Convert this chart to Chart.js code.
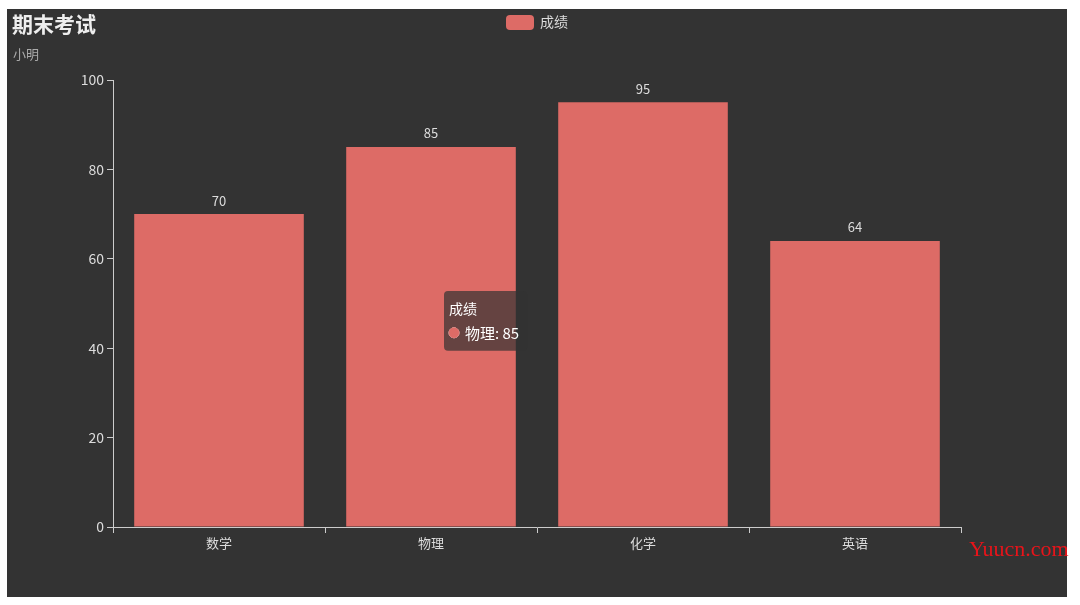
<!DOCTYPE html>
<html>
<head>
<meta charset="utf-8">
<script src="https://cdn.jsdelivr.net/npm/chart.js@4/dist/chart.umd.min.js"></script>
<style>
  html, body { margin: 0; padding: 0; background: #fff; }
  #wrap { position: relative; width: 1080px; height: 605px; }
  #chart { position: absolute; left: 0; top: 0; }
  #mark {
    position: absolute; left: 969px; top: 536px;
    font-family: "Liberation Serif", "DejaVu Serif", serif;
    font-size: 22px; color: #e8141a; white-space: nowrap;
  }
</style>
</head>
<body>
<div id="wrap">
  <canvas id="chart" width="1080" height="605"></canvas>
  <div id="mark">Yuucn.com</div>
</div>
<script>
// chart data
const titleText = '期末考试';
const subtitleText = '小明';
const seriesName = '成绩';
const subjects = ['数学', '物理', '化学', '英语'];
const scores = [70, 85, 95, 64];
const yTicks = [0, 20, 40, 60, 80, 100];

const barColor = '#dd6b66';
const font = '"Noto Sans CJK SC", "Noto Sans", sans-serif';

// dark panel, title, legend and value labels
const decorPlugin = {
    id: 'decor',
    beforeDraw(chart) {
        const ctx = chart.ctx;
        ctx.save();
        ctx.fillStyle = '#333333';
        ctx.fillRect(7, 9, 1060, 588);
        ctx.restore();
    },
    afterDatasetsDraw(chart) {
        const ctx = chart.ctx;
        ctx.save();
        // title + subtitle
        ctx.textBaseline = 'middle';
        ctx.textAlign = 'left';
        ctx.fillStyle = '#eeeeee';
        ctx.font = 'bold 21px ' + font;
        ctx.fillText(titleText, 12, 24);
        ctx.fillStyle = '#aaaaaa';
        ctx.font = '13px ' + font;
        ctx.fillText(subtitleText, 13, 54);
        // legend
        ctx.fillStyle = barColor;
        ctx.beginPath();
        ctx.roundRect(506, 15, 28, 15, 4);
        ctx.fill();
        ctx.fillStyle = '#dddddd';
        ctx.font = '14px ' + font;
        ctx.fillText(seriesName, 540, 22);
        // labels above bars
        ctx.textAlign = 'center';
        ctx.textBaseline = 'bottom';
        ctx.font = '13px ' + font;
        ctx.fillStyle = '#dddddd';
        chart.getDatasetMeta(0).data.forEach((bar, i) => {
            ctx.fillText(String(scores[i]), bar.x, bar.y - 7);
        });
        ctx.restore();
    }
};

Chart.Tooltip.positioners.pinned = function() {
    return { x: 448, y: 291 };
};

const chart = new Chart(document.getElementById('chart'), {
    type: 'bar',
    data: {
        labels: subjects,
        datasets: [{
            label: seriesName,
            data: scores,
            backgroundColor: barColor,
            borderWidth: 0,
            barPercentage: 0.8,
            categoryPercentage: 1.0
        }]
    },
    options: {
        responsive: false,
        animation: false,
        events: [],
        layout: { padding: { left: 0, top: 80, right: 119, bottom: 0 } },
        scales: {
            x: {
                afterFit(scale) { scale.height = 78; },
                border: { display: true, color: '#cccccc', width: 1 },
                grid: { display: true, drawOnChartArea: false, drawTicks: true, tickLength: 6, color: '#cccccc', offset: true },
                ticks: { color: '#dddddd', font: { family: font, size: 13 }, padding: 2 }
            },
            y: {
                min: 0, max: 100,
                afterFit(scale) { scale.width = 113; },
                afterBuildTicks(scale) { scale.ticks = yTicks.map(v => ({ value: v })); },
                border: { display: true, color: '#cccccc', width: 1 },
                grid: { display: true, drawOnChartArea: false, drawTicks: true, tickLength: 6, color: '#cccccc' },
                ticks: { color: '#dddddd', font: { family: font, size: 14 }, padding: 3 }
            }
        },
        plugins: {
            legend: { display: false },
            title: { display: false },
            tooltip: {
                enabled: true,
                position: 'pinned',
                xAlign: 'left',
                yAlign: 'top',
                caretSize: 0,
                caretPadding: 0,
                cornerRadius: 4,
                backgroundColor: 'rgba(50,50,50,0.7)',
                padding: { left: 5, right: 8, top: 9, bottom: 9 },
                titleColor: '#ffffff',
                bodyColor: '#ffffff',
                titleFont: { family: font, size: 14, weight: 'normal' },
                bodyFont: { family: font, size: 15 },
                titleMarginBottom: 7,
                usePointStyle: true,
                boxWidth: 10,
                boxHeight: 10,
                boxPadding: 4,
                callbacks: {
                    title: () => seriesName,
                    label: (item) => item.label + ': ' + item.raw,
                    labelPointStyle: () => ({ pointStyle: 'circle', rotation: 0 }),
                    labelColor: () => ({ borderColor: barColor, backgroundColor: barColor, borderWidth: 0 })
                }
            }
        }
    },
    plugins: [decorPlugin]
});

chart.tooltip.setActiveElements([{ datasetIndex: 0, index: 1 }], { x: 448, y: 291 });
chart.draw();
</script>
</body>
</html>
